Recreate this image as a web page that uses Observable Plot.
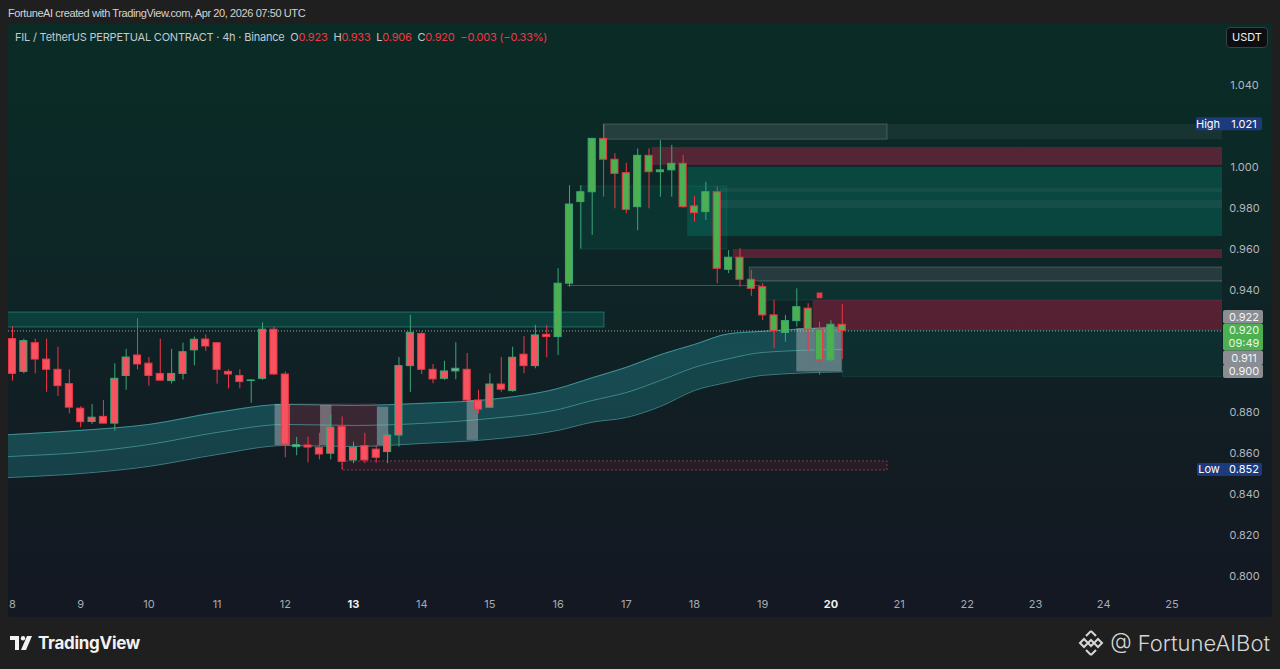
<!DOCTYPE html>
<html>
<head>
<meta charset="utf-8">
<script src="https://cdn.jsdelivr.net/npm/d3@7"></script>
<script src="https://cdn.jsdelivr.net/npm/@observablehq/plot@0.6"></script>
<style>
  html, body { margin:0; padding:0; width:1280px; height:669px; overflow:hidden; background:#1f1f1f; font-family: Inter, "Noto Sans", sans-serif; }
  #credit { position:absolute; left:8px; top:7px; font-size:11px; letter-spacing:-0.4px; color:#d4d4d4; font-family:"Liberation Sans", Arial, sans-serif; }
  #panel { position:absolute; left:8px; top:24px; width:1264px; height:593px; border-radius:3px; overflow:hidden;
    background: linear-gradient(180deg, #0a2c26 0%, #0b2a26 18%, #0e2526 42%, #111e23 66%, #131a22 85%, #131822 100%); }
  #chart { position:absolute; left:0; top:0; }
  #legend { position:absolute; left:7px; top:6px; font-size:11px; color:#c5c8cf; white-space:pre; letter-spacing:-0.2px; }
  #legend .v { color:#f23645; }
  #usdt { position:absolute; left:1218px; top:3px; width:40px; height:19px; border:1px solid #3c4049; border-radius:4px; background:#0c0e12;
    color:#f0f0f0; font-size:11px; line-height:19px; text-align:center; }
  #tv { position:absolute; left:10px; top:633px; height:20px; display:flex; align-items:center; gap:4px; color:#f2f2f2; font-weight:700; font-size:17px; letter-spacing:-0.3px; }
  #brand { position:absolute; right:10px; top:628px; height:30px; display:flex; align-items:center; gap:6px; color:#d6d6d6; font-size:22px; font-weight:300; }
</style>
</head>
<body>
<div id="credit">FortuneAI created with TradingView.com, Apr 20, 2026 07:50 UTC</div>
<div id="panel"><div id="chart"></div><div id="legend"></div><div id="usdt">USDT</div></div>
<div id="tv"><svg width="24" height="14" viewBox="0 0 24 14"><path d="M0 0h9v14H5V4H0z" fill="#f2f2f2"/><circle cx="13" cy="2.2" r="2.2" fill="#f2f2f2"/><path d="M17 0h5l-6 14h-5z" fill="#f2f2f2"/></svg><span>TradingView</span></div>
<div id="brand"><svg width="26" height="28" viewBox="0 0 26 28"><g fill="none" stroke="#d6d6d6" stroke-width="2"><path d="M13 2l5 5M13 2L8 7"/><path d="M13 26l5-5M13 26l-5-5"/><path d="M2 14l4-4 4 4-4 4z"/><path d="M24 14l-4-4-4 4 4 4z"/><path d="M13 11l3 3-3 3-3-3z"/></g></svg><span>@ FortuneAIBot</span></div>
<script>
// ---- data (4h bars starting Apr 8 00:00 UTC) ----
const startDay = 8;
const barsPerDay = 6;
const open  = [.916,.900,.914,.906,.901,.894,.882,.8755,.878,.8747, .898,.908,.904,.899,.8955,.899,.9105,.9158,.914,.900,
               .898,.8955,.8966,.9206,.8987,.8632,.864,.8629,.860,.873, .8567,.8637,.862,.8608,.8689,.9028,.9185,.901,.8966,.9002,
               .901,.886,.8825,.8938,.8906,.9084,.9028,.9181,.917,.9431, .983,.9878,1.0139,1.0037,.9971,.9805,1.0056,.9976,.9985,1.0017,
               .9809,.9781,.9878,.9499,.9558,.945,.9414,.9276,.919,.9248, .9309,.9206,.9056,.923];
const high  = [.922,.916,.916,.916,.912,.901,.883,.884,.886,.904, .911,.926,.907,.916,.911,.914,.917,.918,.914,.901,
               .901,.8962,.924,.922,.900,.868,.868,.870,.8787,.878, .8656,.870,.864,.8705,.907,.9276,.9194,.9036,.9052,.9142,
               .909,.891,.899,.907,.912,.9173,.9227,.9227,.9504,.991, .991,1.014,1.021,1.0066,1.002,1.009,1.009,1.013,1.0107,1.0058,
               .9857,.9927,.9903,.9593,.9602,.9496,.9431,.935,.9276,.9406, .9333,.9243,.925,.933];
const low   = [.8955,.899,.899,.890,.888,.8795,.8727,.8743,.8745,.871, .891,.901,.893,.8955,.894,.896,.903,.910,.894,.8917,
               .8917,.8847,.8958,.8983,.858,.859,.8555,.857,.857,.852, .8551,.8551,.8554,.8551,.8632,.890,.8987,.8942,.8958,.8961,
               .885,.8795,.882,.890,.890,.8991,.9015,.9069,.908,.9414, .960,.9667,.9854,.9797,.9773,.969,.9797,.9854,.9854,.980,
               .9732,.974,.9431,.948,.9414,.9369,.9251,.9113,.9145,.9219, .9096,.8983,.9048,.906];
const close = [.899,.915,.906,.901,.893,.8825,.8754,.8776,.8747,.8966, .907,.9036,.898,.8957,.899,.9096,.9157,.9124,.901,.8987,
               .895,.8958,.9206,.8987,.8645,.8642,.863,.8596,.8727,.856, .8629,.8567,.858,.8689,.9028,.9191,.901,.8963,.9002,.9015,
               .886,.8815,.8938,.8913,.9069,.9028,.9178,.917,.9431,.9818, .9878,1.0139,1.0037,.9968,.9792,1.0056,.9976,.9985,1.0017,.9805,
               .9776,.9878,.9504,.9558,.945,.9406,.9276,.920,.9248,.9316, .9206,.9056,.923,.920];
const trend = ["r","r","r","r","r","r","r","r","r","r",
               "r","r","r","r","r","r","r","r","r","r",
               "r","n","r","r","r","n","r","r","r","r",
               "r","r","r","r","r","r","r","r","r","n",
               "r","r","r","r","r","r","r","r","g","g",
               "g","g","g","g","g","g","g","g","g","g",
               "g","g","g","g","g","g","g","g","g","g",
               "g","g","g","g"];

// ribbon (upper / middle / lower), sampled at bar indices
const bandIdx   = [-1,0,6,12,18,24,30,36,42,48,51,54,57,60,63,66,73];
const bandUpper = [.8691,.8694,.8714,.8743,.8802,.8841,.8836,.8846,.8865,.8919,.8971,.9022,.9084,.9134,.9186,.9198,.922];
const bandMid   = [.8584,.8587,.8606,.8645,.8704,.8743,.8738,.8748,.8772,.8816,.8860,.8899,.8958,.9022,.9064,.9095,.911];
const bandLower = [.8481,.8484,.8503,.8538,.8596,.8640,.8635,.8650,.8670,.8714,.8754,.8777,.8831,.8909,.8950,.8983,.900];

// highlighted bar ranges inside the ribbon (bar index units)
const hlX1     = [24.45, 23.1, 27.1, 32.1, 40.0, 69.0];
const hlX2     = [32.1, 24.45, 28.1, 33.1, 41.0, 73.0];
const hlTop    = [.8844,.8841,.8836,.8827,.8860,.9211];
const hlBottom = [.8640,.8640,.8640,.8640,.8665,.9000];
const hlKind   = ["red","gray","gray","gray","gray","gray"];

// supply / demand zones (x in days of April)
const zoneX1     = [7.5, 16.68, 20.83, 17.38, 17.90, 18.38, 18.38, 16.33, 18.57, 18.81, 18.97, 19.74, 20.18, 12.84];
const zoneX2     = [16.68, 20.83, 26, 26, 26, 26, 26, 18.48, 26, 26, 26, 26, 26, 20.83];
const zoneTop    = [.9290, 1.0209, 1.0209, 1.0097, 1.0000, .9897, .9838, .9906, .9598, .9510, .9442, .9349, .9202, .8562];
const zoneBottom = [.9217, 1.0135, 1.0135, 1.0009, .9662, .9877, .9799, .9598, .9554, .9442, .9349, .9202, .8974, .8518];
const zoneKind   = ["tealEdge","gray","grayFaint","red","teal","grayFaint","grayFaint","tealFaint","red","gray","tealFaint","red","tealFaint","redOutline"];
const levelPrice = [.9422];
const levelX1    = [16.14];
const levelX2    = [18.97];

// signal marker
const signalIdx   = [71];
const signalPrice = [.9374];

// axes
const dayTicks   = [8,9,10,11,12,13,14,15,16,17,18,19,20,21,22,23,24,25];
const boldDays   = [13,20];
const priceTicks = [0.80,0.82,0.84,0.86,0.88,0.90,0.92,0.94,0.96,0.98,1.00,1.02,1.04];
const hiddenTicks = [0.90,0.92,1.02];

// price-scale labels
const statLabels = ["High","Low"];
const statValues = [1.021, 0.852];
const bandLabelValues = [0.922, 0.911, 0.900];
const lastPrice = 0.920;
const countdown = "09:49";

// ---- build ----
const t = i => startDay + i / barsPerDay;
const candles = open.map((o, i) => ({t: t(i), open: o, high: high[i], low: low[i], close: close[i], trend: trend[i]}));
const band = bandIdx.map((b, i) => ({t: t(b), up: bandUpper[i], mid: bandMid[i], lo: bandLower[i]}));
const highlights = hlX1.map((x, i) => ({x1: t(x), x2: t(hlX2[i]), top: hlTop[i], bottom: hlBottom[i], kind: hlKind[i]}));
const zones = zoneX1.map((x, i) => ({x1: x, x2: zoneX2[i], top: zoneTop[i], bottom: zoneBottom[i], kind: zoneKind[i]}));
const levels = levelPrice.map((p, i) => ({p, x1: levelX1[i], x2: levelX2[i]}));
const signals = signalIdx.map((s, i) => ({t: t(s), p: signalPrice[i]}));

const zoneFill = {tealEdge:"rgba(0,165,140,0.22)", teal:"rgba(0,170,145,0.24)", tealFaint:"rgba(0,165,140,0.10)", gray:"rgba(150,160,165,0.18)", grayFaint:"rgba(150,160,165,0.09)", red:"rgba(225,30,80,0.34)", redOutline:"rgba(225,30,80,0.10)"};
const zoneStroke = {tealEdge:"rgba(70,200,175,0.40)", teal:"none", tealFaint:"rgba(70,200,175,0.12)", gray:"rgba(170,180,180,0.30)", grayFaint:"none", red:"none", redOutline:"rgba(235,70,100,0.6)"};
const trendFill = {r:"#f7525f", g:"#4caf50", n:"#9a9ca4"};
const upCol = "#3aa876", downCol = "#f23645";
const dirCol = d => d.close >= d.open ? upCol : downCol;
const bw = 0.052;

const W = 1264, H = 593;
const plot = Plot.plot({
  width: W, height: H,
  marginLeft: 0, marginRight: 50, marginTop: 0, marginBottom: 20,
  style: {background: "transparent", fontFamily: "Inter, 'Noto Sans', sans-serif", fontSize: "11px", overflow: "visible"},
  x: {type: "linear", domain: [7.9413, 25.7419], axis: null},
  y: {type: "linear", domain: [0.7897, 1.0698], axis: null},
  marks: [
    ...["tealEdge","teal","tealFaint","gray","grayFaint","red","redOutline"].map(k =>
      Plot.rect(zones.filter(z => z.kind === k), {x1: "x1", x2: "x2", y1: "bottom", y2: "top", fill: zoneFill[k], stroke: zoneStroke[k], strokeWidth: 1, strokeDasharray: k === "redOutline" ? "2,2" : null, clip: true})),
    Plot.ruleY(levels, {y: "p", x1: "x1", x2: "x2", stroke: "rgba(70,200,175,0.40)", clip: true}),
    Plot.areaY(band, {x: "t", y1: "mid", y2: "up", fill: "rgba(40,175,185,0.30)", curve: "monotone-x", clip: true}),
    Plot.areaY(band, {x: "t", y1: "lo", y2: "mid", fill: "rgba(40,175,185,0.26)", curve: "monotone-x", clip: true}),
    Plot.rect(highlights.filter(h => h.kind === "red"), {x1: "x1", x2: "x2", y1: "bottom", y2: "top", fill: "#3b2732", fillOpacity: 0.95}),
    Plot.rect(highlights.filter(h => h.kind === "gray"), {x1: "x1", x2: "x2", y1: "bottom", y2: "top", fill: "rgba(175,178,185,0.48)"}),
    Plot.lineY(band, {x: "t", y: "up", stroke: "rgba(95,205,205,0.55)", strokeWidth: 1, curve: "monotone-x", clip: true}),
    Plot.lineY(band, {x: "t", y: "mid", stroke: "rgba(95,205,205,0.5)", strokeWidth: 1, curve: "monotone-x", clip: true}),
    Plot.lineY(band, {x: "t", y: "lo", stroke: "rgba(95,205,205,0.55)", strokeWidth: 1, curve: "monotone-x", clip: true}),
    Plot.ruleY([lastPrice], {stroke: "#c9ccd2", strokeOpacity: 0.75, strokeDasharray: "1,2"}),
    Plot.ruleX(candles, {x: "t", y1: "low", y2: "high", stroke: dirCol, strokeWidth: 1}),
    Plot.rect(candles, {x1: d => d.t - bw, x2: d => d.t + bw, y1: "open", y2: "close", fill: d => trendFill[d.trend], stroke: dirCol, strokeWidth: 1}),
    Plot.dot(signals, {x: "t", y: "p", symbol: "square", r: 3.2, fill: "#f23645"}),
    Plot.text(dayTicks.filter(d => !boldDays.includes(d)), {x: d => d, frameAnchor: "bottom", dy: 10, text: d => String(d), fill: "#a7aab2"}),
    Plot.text(boldDays, {x: d => d, frameAnchor: "bottom", dy: 10, text: d => String(d), fill: "#eeeeee", fontWeight: 700}),
    Plot.text(priceTicks.filter(p => !hiddenTicks.some(h => Math.abs(h - p) < 1e-9)), {y: d => d, frameAnchor: "right", dx: 22, textAnchor: "middle", text: d => d.toFixed(3), fill: "#b2b5bd"})
  ]
});
document.getElementById("chart").appendChild(plot);

// price-scale badges positioned through the y scale
const ys = plot.scale("y");
const sy = d3.scaleLinear(ys.domain, ys.range);
const svg = d3.select(plot);
const g = svg.append("g").attr("font-size", 11).attr("font-family", "Inter, 'Noto Sans', sans-serif");
function badge(x, y, w, h, bg) {
  g.append("rect").attr("x", x).attr("y", y).attr("width", w).attr("height", h).attr("rx", 2).attr("fill", bg);
}
function label(x, y, txt, col, anchor = "middle") {
  g.append("text").attr("x", x).attr("y", y).attr("dy", "0.35em").attr("text-anchor", anchor).attr("fill", col).text(txt);
}
const bx = W - 50 + 1, bwid = 40, cx = W - 50 + 22;
const gTop = sy(lastPrice) - 7, gH = 27;
badge(bx, gTop - 13.5, bwid, 13.5, "#8a8d94"); label(cx, gTop - 6.5, bandLabelValues[0].toFixed(3), "#f4f4f4");
badge(bx, gTop, bwid, gH, "#4caf50"); label(cx, gTop + 7, lastPrice.toFixed(3), "#e6f7e6"); label(cx, gTop + 20, countdown, "#e6f7e6");
badge(bx, gTop + gH, bwid, 14.5, "#8a8d94"); label(cx, gTop + gH + 7.5, bandLabelValues[1].toFixed(3), "#f4f4f4");
const y900 = sy(bandLabelValues[2]);
badge(bx, y900 - 6.8, bwid, 13.5, "#8a8d94"); label(cx, y900, bandLabelValues[2].toFixed(3), "#f4f4f4");
statValues.forEach((v, i) => {
  const yy = sy(v);
  badge(W - 50 - 26 + (i ? 1 : 0), yy - 6.5, 66 - (i ? 1 : 0), 13, "#1d3a7c");
  label(W - 50 - 14 + (i ? 1 : 0), yy, statLabels[i], "#ffffff");
  label(cx, yy, v.toFixed(3), "#ffffff");
});

// legend line
const n = close.length - 1;
const chg = close[n] - close[n - 1];
const pct = chg / close[n - 1] * 100;
const fmt = v => v.toFixed(3);
const minus = s => s.replace("-", "\u2212");
document.getElementById("legend").innerHTML =
  "FIL / TetherUS PERPETUAL CONTRACT \u00b7 4h \u00b7 Binance  " +
  `O<span class="v">${fmt(open[n])}</span>  H<span class="v">${fmt(high[n])}</span>  L<span class="v">${fmt(low[n])}</span>  C<span class="v">${fmt(close[n])}</span>  ` +
  `<span class="v">${minus(chg.toFixed(3))} (${minus(pct.toFixed(2))}%)</span>`;
</script>
</body>
</html>
